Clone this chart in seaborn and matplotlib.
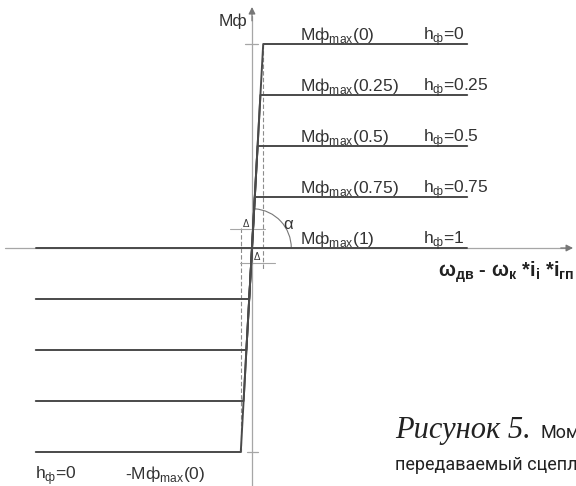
import numpy as np
import pandas as pd
import matplotlib
matplotlib.use("Agg")
import matplotlib.pyplot as plt
from matplotlib.patches import Arc
import seaborn as sns

# levels of the characteristic (grid units, Mф_max(0) = 4)
h_levels = [0, 0.25, 0.5, 0.75, 1]
h_names = ["0", "0.25", "0.5", "0.75", "1"]
m_max = [4, 3, 2, 1, 0]
x_left = -4.24
x_right = 4.22
slope_top = 0.22   # x of the sloped part at m = 4

line_col = "#4a4a4a"
axis_col = "#a6a6a6"
text_col = "#333333"

sns.set_theme(style="white")
plt.rcParams["font.family"] = ["Liberation Sans", "DejaVu Sans"]
plt.rcParams["mathtext.fontset"] = "custom"
plt.rcParams["mathtext.rm"] = "Liberation Sans"

# one polyline per h: -M on the left, slope, +M on the right
rows = []
for h, m in zip(h_levels, m_max):
    k = slope_top * m / 4
    for x, y in [(x_left, -m), (-k, -m), (k, m), (x_right, m)]:
        rows.append({"h": h, "x": x, "y": y})
df = pd.DataFrame(rows)

fig = plt.figure(figsize=(5.76, 4.86), dpi=100)
ax = fig.add_axes([0, 0, 1, 1])
ax.set_xlim(-252 / 51, 324 / 51)
ax.set_ylim(-238 / 51, 248 / 51)
ax.axis("off")

# axes with arrows
ax.plot([-4.84, 6.2], [0, 0], color=axis_col, lw=0.9, zorder=1)
ax.plot([0, 0], [-4.7, 4.55], color=axis_col, lw=0.9, zorder=1)
ax.annotate("", xy=(6.35, 0), xytext=(6.0, 0),
            arrowprops=dict(arrowstyle="-|>", color="#777777", lw=0.9, mutation_scale=10))
ax.annotate("", xy=(0, 4.78), xytext=(0, 4.4),
            arrowprops=dict(arrowstyle="-|>", color="#777777", lw=0.9, mutation_scale=10))
ax.plot([-0.14, 0.12], [4, 4], color=axis_col, lw=0.9)
ax.plot([-0.1, 0.12], [-4, -4], color=axis_col, lw=0.9)

sns.lineplot(data=df, x="x", y="y", units="h", estimator=None, sort=False,
             color=line_col, lw=1.4, ax=ax, zorder=3)

# dashed construction lines
ax.plot([slope_top, slope_top], [4, -0.43], color="#8c8c8c", lw=0.8, ls=(0, (4, 2)), zorder=2)
ax.plot([-slope_top, -slope_top], [0.39, -4], color="#8c8c8c", lw=0.8, ls=(0, (4, 2)), zorder=2)

# delta dimension marks
ax.plot([-0.43, 0.25], [0.37, 0.37], color=axis_col, lw=0.8)
ax.plot([-0.24, 0.45], [-0.29, -0.29], color=axis_col, lw=0.8)
ax.text(-0.12, 0.38, "Δ", fontsize=7, ha="center", va="bottom", color=text_col)
ax.text(0.1, -0.28, "Δ", fontsize=7, ha="center", va="bottom", color=text_col)

# angle alpha
ax.add_patch(Arc((0, 0), 1.54, 1.54, theta1=0, theta2=86, color="#777777", lw=0.8))
ax.text(0.7, 0.47, "α", fontsize=12, color=text_col, ha="center", va="center")

# level labels
for name, m in zip(h_names, m_max):
    ax.text(0.94, m + 0.08, "Mф$_{\\mathregular{max}}$(" + name + ")",
            fontsize=12.5, color=text_col, ha="left", va="baseline")
    ax.text(3.35, m + 0.08, "h$_{\\mathregular{ф}}$=" + name,
            fontsize=12.5, color=text_col, ha="left", va="baseline")

ax.text(-0.1, 4.36, "Mф", fontsize=12.5, color=text_col, ha="right", va="baseline")
ax.text(-4.26, -4.52, "h$_{\\mathregular{ф}}$=0", fontsize=12.5, color=text_col, va="baseline")
ax.text(-2.5, -4.52, "-Mф$_{\\mathregular{max}}$(0)", fontsize=12.5, color=text_col, va="baseline")

ax.text(3.65, -0.57,
        "ω$_{\\mathregular{дв}}$ - ω$_{\\mathregular{к}}$ *i$_{\\mathregular{i}}$ *i$_{\\mathregular{гп}}$",
        fontsize=14.5, color="#222222", ha="left", va="baseline", fontweight="semibold")

# caption
ax.text(2.81, -3.72, "Рисунок 5.", fontsize=22, color="#222222",
        family=["Liberation Serif", "DejaVu Serif"], style="italic", va="baseline")
ax.text(5.66, -3.72, "Мом", fontsize=13, color="#222222",
        family=["Roboto", "DejaVu Sans"], va="baseline")
ax.text(2.81, -4.35, "передаваемый сцепле", fontsize=13, color="#222222",
        family=["Roboto", "DejaVu Sans"], va="baseline")

fig.savefig("out.png", dpi=100)
